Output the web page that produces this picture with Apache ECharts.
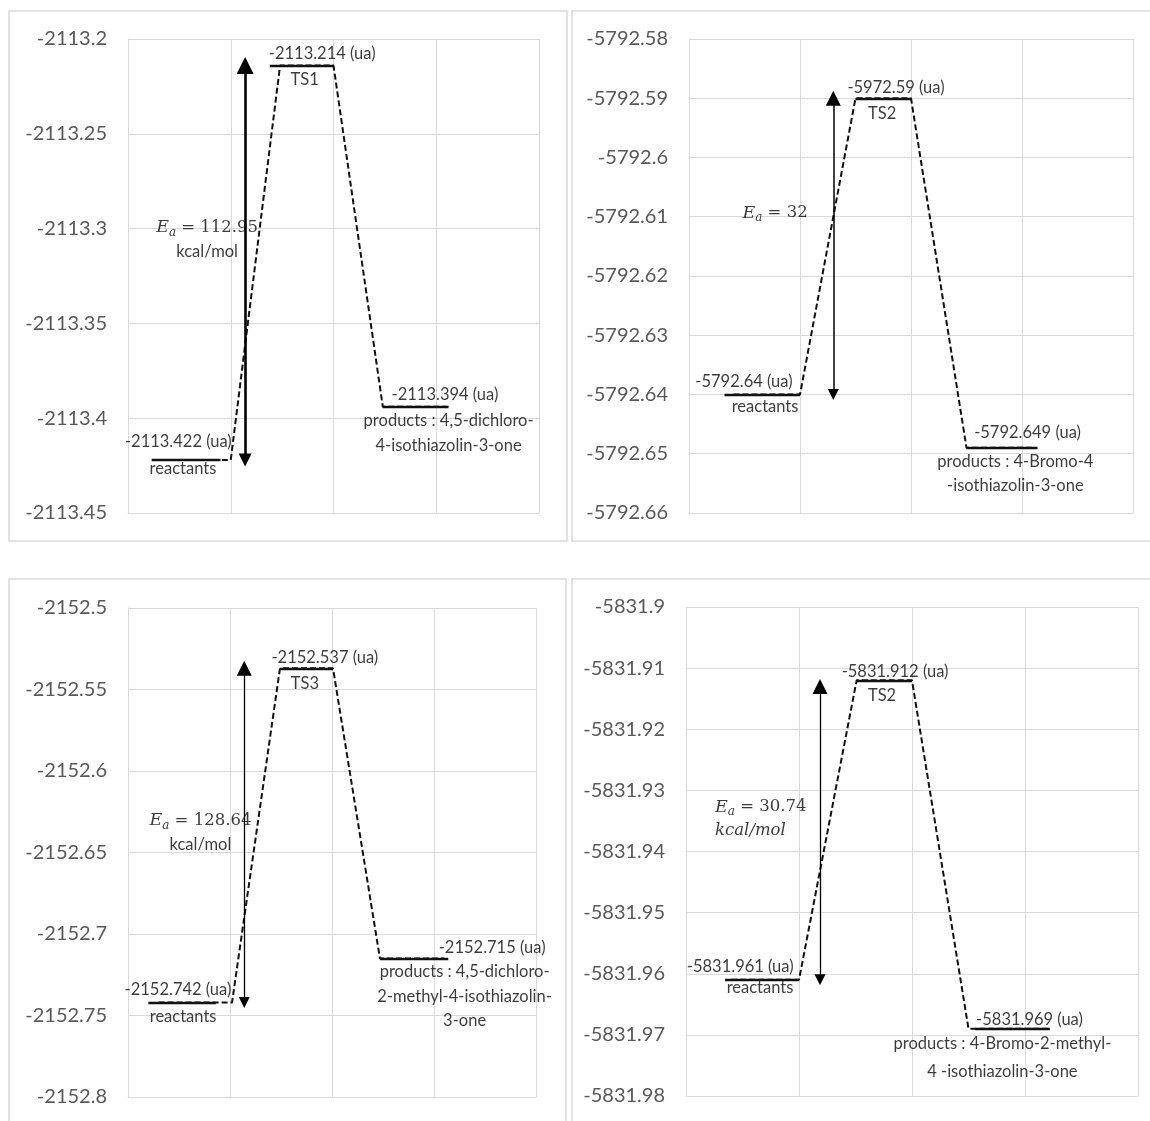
<!DOCTYPE html>
<html>
<head>
<meta charset="utf-8">
<script src="https://cdn.jsdelivr.net/npm/echarts@6/dist/echarts.min.js"></script>
<style>
html,body{margin:0;padding:0;background:#fff;}
#chart{width:1150px;height:1121px;}
</style>
</head>
<body>
<div id="chart"></div>
<script>
// ---------------- DATA ----------------
// energies: [reactants, transition state, products] (ua)
const p1Energy = [-2113.422, -2113.214, -2113.394];
const p2Energy = [-5792.64, -5792.59, -5792.649];
const p3Energy = [-2152.742, -2152.537, -2152.715];
const p4Energy = [-5831.961, -5831.912, -5831.969];

// value label texts (as printed on the chart)
const p1ValueText = ['-2113.422 (ua)', '-2113.214 (ua)', '-2113.394 (ua)'];
const p2ValueText = ['-5792.64 (ua)', '-5972.59 (ua)', '-5792.649 (ua)'];
const p3ValueText = ['-2152.742 (ua)', '-2152.537 (ua)', '-2152.715 (ua)'];
const p4ValueText = ['-5831.961 (ua)', '-5831.912 (ua)', '-5831.969 (ua)'];

// level names
const p1Names = ['reactants', 'TS1', 'products : 4,5-dichloro-\n4-isothiazolin-3-one'];
const p2Names = ['reactants', 'TS2', 'products : 4-Bromo-4\n-isothiazolin-3-one'];
const p3Names = ['reactants', 'TS3', 'products : 4,5-dichloro-\n2-methyl-4-isothiazolin-\n3-one'];
const p4Names = ['reactants', 'TS2', 'products : 4-Bromo-2-methyl-\n4 -isothiazolin-3-one'];

// activation energies
const p1Ea = ['112.95', 'kcal/mol'];
const p2Ea = ['32', ''];
const p3Ea = ['128.64', 'kcal/mol'];
const p4Ea = ['30.74', 'kcal/mol'];

// y axis tick ranges [min, max, step]
const p1YTicks = [-2113.45, -2113.2, 0.05];
const p2YTicks = [-5792.66, -5792.58, 0.01];
const p3YTicks = [-2152.8, -2152.5, 0.05];
const p4YTicks = [-5831.98, -5831.9, 0.01];

// arrow top (ua) – reference arrow in panel 4 stops a little below TS
const p4ArrowTop = -5831.913;

// ---------------- LAYOUT (styling only) ----------------
const panels = [
  { energy: p1Energy, vtext: p1ValueText, names: p1Names, ea: p1Ea, ticks: p1YTicks,
    grid: {left: 128, top: 39, width: 411, height: 474},
    lev: [[0.23, 0.9], [1.38, 2.0], [2.48, 3.12]], prof: [0.3, 1.0, 1.48, 2.0, 2.48, 3.1],
    arrowX: 1.14, arrowW: 2.6, arrowSym: [13, 17], arrowTop: null,
    vX: [0.49, 1.89, 3.085], vDy: [-18, -11.5, -12],
    nX: [0.535, 1.72, 3.12], nDy: [9, 14.5, 13.5], nLH: 25,
    eaX: 0.77, eaY: -2113.3058, eaAlign: 'center', kItalic: false },
  { energy: p2Energy, vtext: p2ValueText, names: p2Names, ea: p2Ea, ticks: p2YTicks,
    grid: {left: 689, top: 39, width: 444, height: 474},
    lev: [[0.32, 1.0], [1.5, 2.0], [2.5, 3.14]], prof: [0.4, 1.0, 1.5, 2.0, 2.5, 3.1],
    arrowX: 1.3, arrowW: 1.5, arrowSym: [11, 15], arrowTop: null,
    vX: [0.495, 1.865, 3.05], vDy: [-12.5, -11, -15],
    nX: [0.685, 1.74, 2.94], nDy: [12.5, 15, 14], nLH: 24,
    eaX: 0.775, eaY: -5792.6094, eaAlign: 'center', kItalic: false },
  { energy: p3Energy, vtext: p3ValueText, names: p3Names, ea: p3Ea, ticks: p3YTicks,
    grid: {left: 128, top: 608, width: 408, height: 489},
    lev: [[0.2, 0.86], [1.49, 2.01], [2.47, 3.14]], prof: [0.3, 1.02, 1.49, 2.01, 2.47, 3.1],
    arrowX: 1.14, arrowW: 1.3, arrowSym: [11, 15], arrowTop: null,
    vX: [0.49, 1.93, 3.57], vDy: [-12.5, -11, -10.5],
    nX: [0.54, 1.735, 3.3], nDy: [14.5, 15, 13.5], nLH: 24.5,
    eaX: 0.71, eaY: -2152.638, eaAlign: 'center', kItalic: false },
  { energy: p4Energy, vtext: p4ValueText, names: p4Names, ea: p4Ea, ticks: p4YTicks,
    grid: {left: 686, top: 607, width: 452, height: 489},
    lev: [[0.345, 1.0], [1.51, 2.0], [2.56, 3.22]], prof: [0.4, 1.0, 1.51, 2.0, 2.5, 3.2],
    arrowX: 1.186, arrowW: 1.3, arrowSym: [11, 15], arrowTop: p4ArrowTop,
    vX: [0.48, 1.85, 3.04], vDy: [-13, -9, -9],
    nX: [0.655, 1.735, 2.8], nDy: [8, 15, 15], nLH: 28,
    eaX: 0.257, eaY: -5831.9347, eaAlign: 'left', kItalic: true }
];

const SANS = 'Lato, "Open Sans", sans-serif';
const SERIF = '"DejaVu Serif", "Liberation Serif", serif';
const GRID_C = '#d9d9d9';
const TXT = '#0a0a0a';
const FS = 16.5;

function fmt(v) { return String(+(+v).toFixed(4)); }

const option = {
  animation: false,
  backgroundColor: '#ffffff',
  grid: [], xAxis: [], yAxis: [], series: [],
  graphic: [
    {type: 'rect', shape: {x: 9, y: 11, width: 558, height: 530}, style: {fill: 'none', stroke: GRID_C, lineWidth: 1.5}, silent: true},
    {type: 'rect', shape: {x: 572, y: 11, width: 590, height: 530}, style: {fill: 'none', stroke: GRID_C, lineWidth: 1.5}, silent: true},
    {type: 'rect', shape: {x: 9, y: 579, width: 557, height: 560}, style: {fill: 'none', stroke: GRID_C, lineWidth: 1.5}, silent: true},
    {type: 'rect', shape: {x: 572, y: 579, width: 590, height: 560}, style: {fill: 'none', stroke: GRID_C, lineWidth: 1.5}, silent: true}
  ]
};

panels.forEach((p, i) => {
  const [R, TS, P] = p.energy;
  option.grid.push(Object.assign({containLabel: false}, p.grid));
  option.xAxis.push({
    type: 'value', gridIndex: i, min: 0, max: 4, interval: 1,
    axisLabel: {show: false}, axisTick: {show: false},
    axisLine: {show: true, lineStyle: {color: GRID_C, width: 1}},
    splitLine: {show: true, lineStyle: {color: GRID_C, width: 1}}
  });
  option.yAxis.push({
    type: 'value', gridIndex: i, min: p.ticks[0], max: p.ticks[1], interval: p.ticks[2],
    axisTick: {show: false},
    axisLine: {show: true, lineStyle: {color: GRID_C, width: 1}},
    splitLine: {show: true, lineStyle: {color: GRID_C, width: 1}},
    axisLabel: {color: '#595959', fontFamily: SANS, fontSize: 20, margin: 21, formatter: fmt}
  });

  // dashed energy profile
  const ys = [R, R, TS, TS, P, P];
  option.series.push({
    type: 'line', xAxisIndex: i, yAxisIndex: i, silent: true,
    data: p.prof.map((x, k) => [x, ys[k]]),
    symbol: 'none', z: 3,
    lineStyle: {color: '#111', width: 2, type: [6, 3]}
  });

  // solid level bars
  option.series.push({
    type: 'lines', coordinateSystem: 'cartesian2d', xAxisIndex: i, yAxisIndex: i, silent: true,
    z: 4,
    lineStyle: {color: '#111', width: 2.4, opacity: 1},
    data: p.energy.map((e, k) => ({coords: [[p.lev[k][0], e], [p.lev[k][1], e]]}))
  });

  // double arrow (Ea)
  option.series.push({
    type: 'lines', coordinateSystem: 'cartesian2d', xAxisIndex: i, yAxisIndex: i, silent: true,
    z: 5,
    symbol: ['triangle', 'triangle'], symbolSize: p.arrowSym,
    lineStyle: {color: '#000', width: p.arrowW, opacity: 1},
    data: [{coords: [[p.arrowX, R], [p.arrowX, p.arrowTop !== null ? p.arrowTop : TS]]}]
  });

  // labels
  const lab = [];
  p.energy.forEach((e, k) => {
    lab.push({
      value: [p.vX[k], e],
      label: {show: true, position: [0, p.vDy[k]], align: 'center', verticalAlign: 'middle',
        formatter: p.vtext[k], fontFamily: SANS, fontSize: FS, color: TXT}
    });
    lab.push({
      value: [p.nX[k], e],
      label: {show: true, position: [0, p.nDy[k] - p.nLH / 2], align: 'center', verticalAlign: 'top',
        formatter: p.names[k], fontFamily: SANS, fontSize: FS, lineHeight: p.nLH, color: TXT}
    });
  });
  const eaText = '{e|E}{s|a}{t| = ' + p.ea[0] + '}' + (p.ea[1] ? '\n' + (p.kItalic ? '{ki|' : '{k|') + p.ea[1] + '}' : '');
  lab.push({
    value: [p.eaX, p.eaY],
    label: {show: true, position: [0, 0], align: p.eaAlign, verticalAlign: 'middle',
      formatter: eaText, color: TXT, lineHeight: 24,
      rich: {
        e: {fontFamily: SERIF, fontStyle: 'italic', fontSize: 17.5, color: TXT},
        s: {fontFamily: SERIF, fontStyle: 'italic', fontSize: 12, color: TXT, padding: [10, 0, 0, 0]},
        t: {fontFamily: SERIF, fontSize: 16.5, color: TXT},
        k: {fontFamily: SANS, fontSize: FS, color: TXT},
        ki: {fontFamily: SERIF, fontStyle: 'italic', fontSize: 16.5, color: TXT}
      }}
  });
  option.series.push({
    type: 'scatter', xAxisIndex: i, yAxisIndex: i, silent: true, z: 6,
    symbolSize: 0, data: lab
  });
});

const chart = echarts.init(document.getElementById('chart'), null, {renderer: 'canvas'});
chart.setOption(option);
</script>
</body>
</html>
